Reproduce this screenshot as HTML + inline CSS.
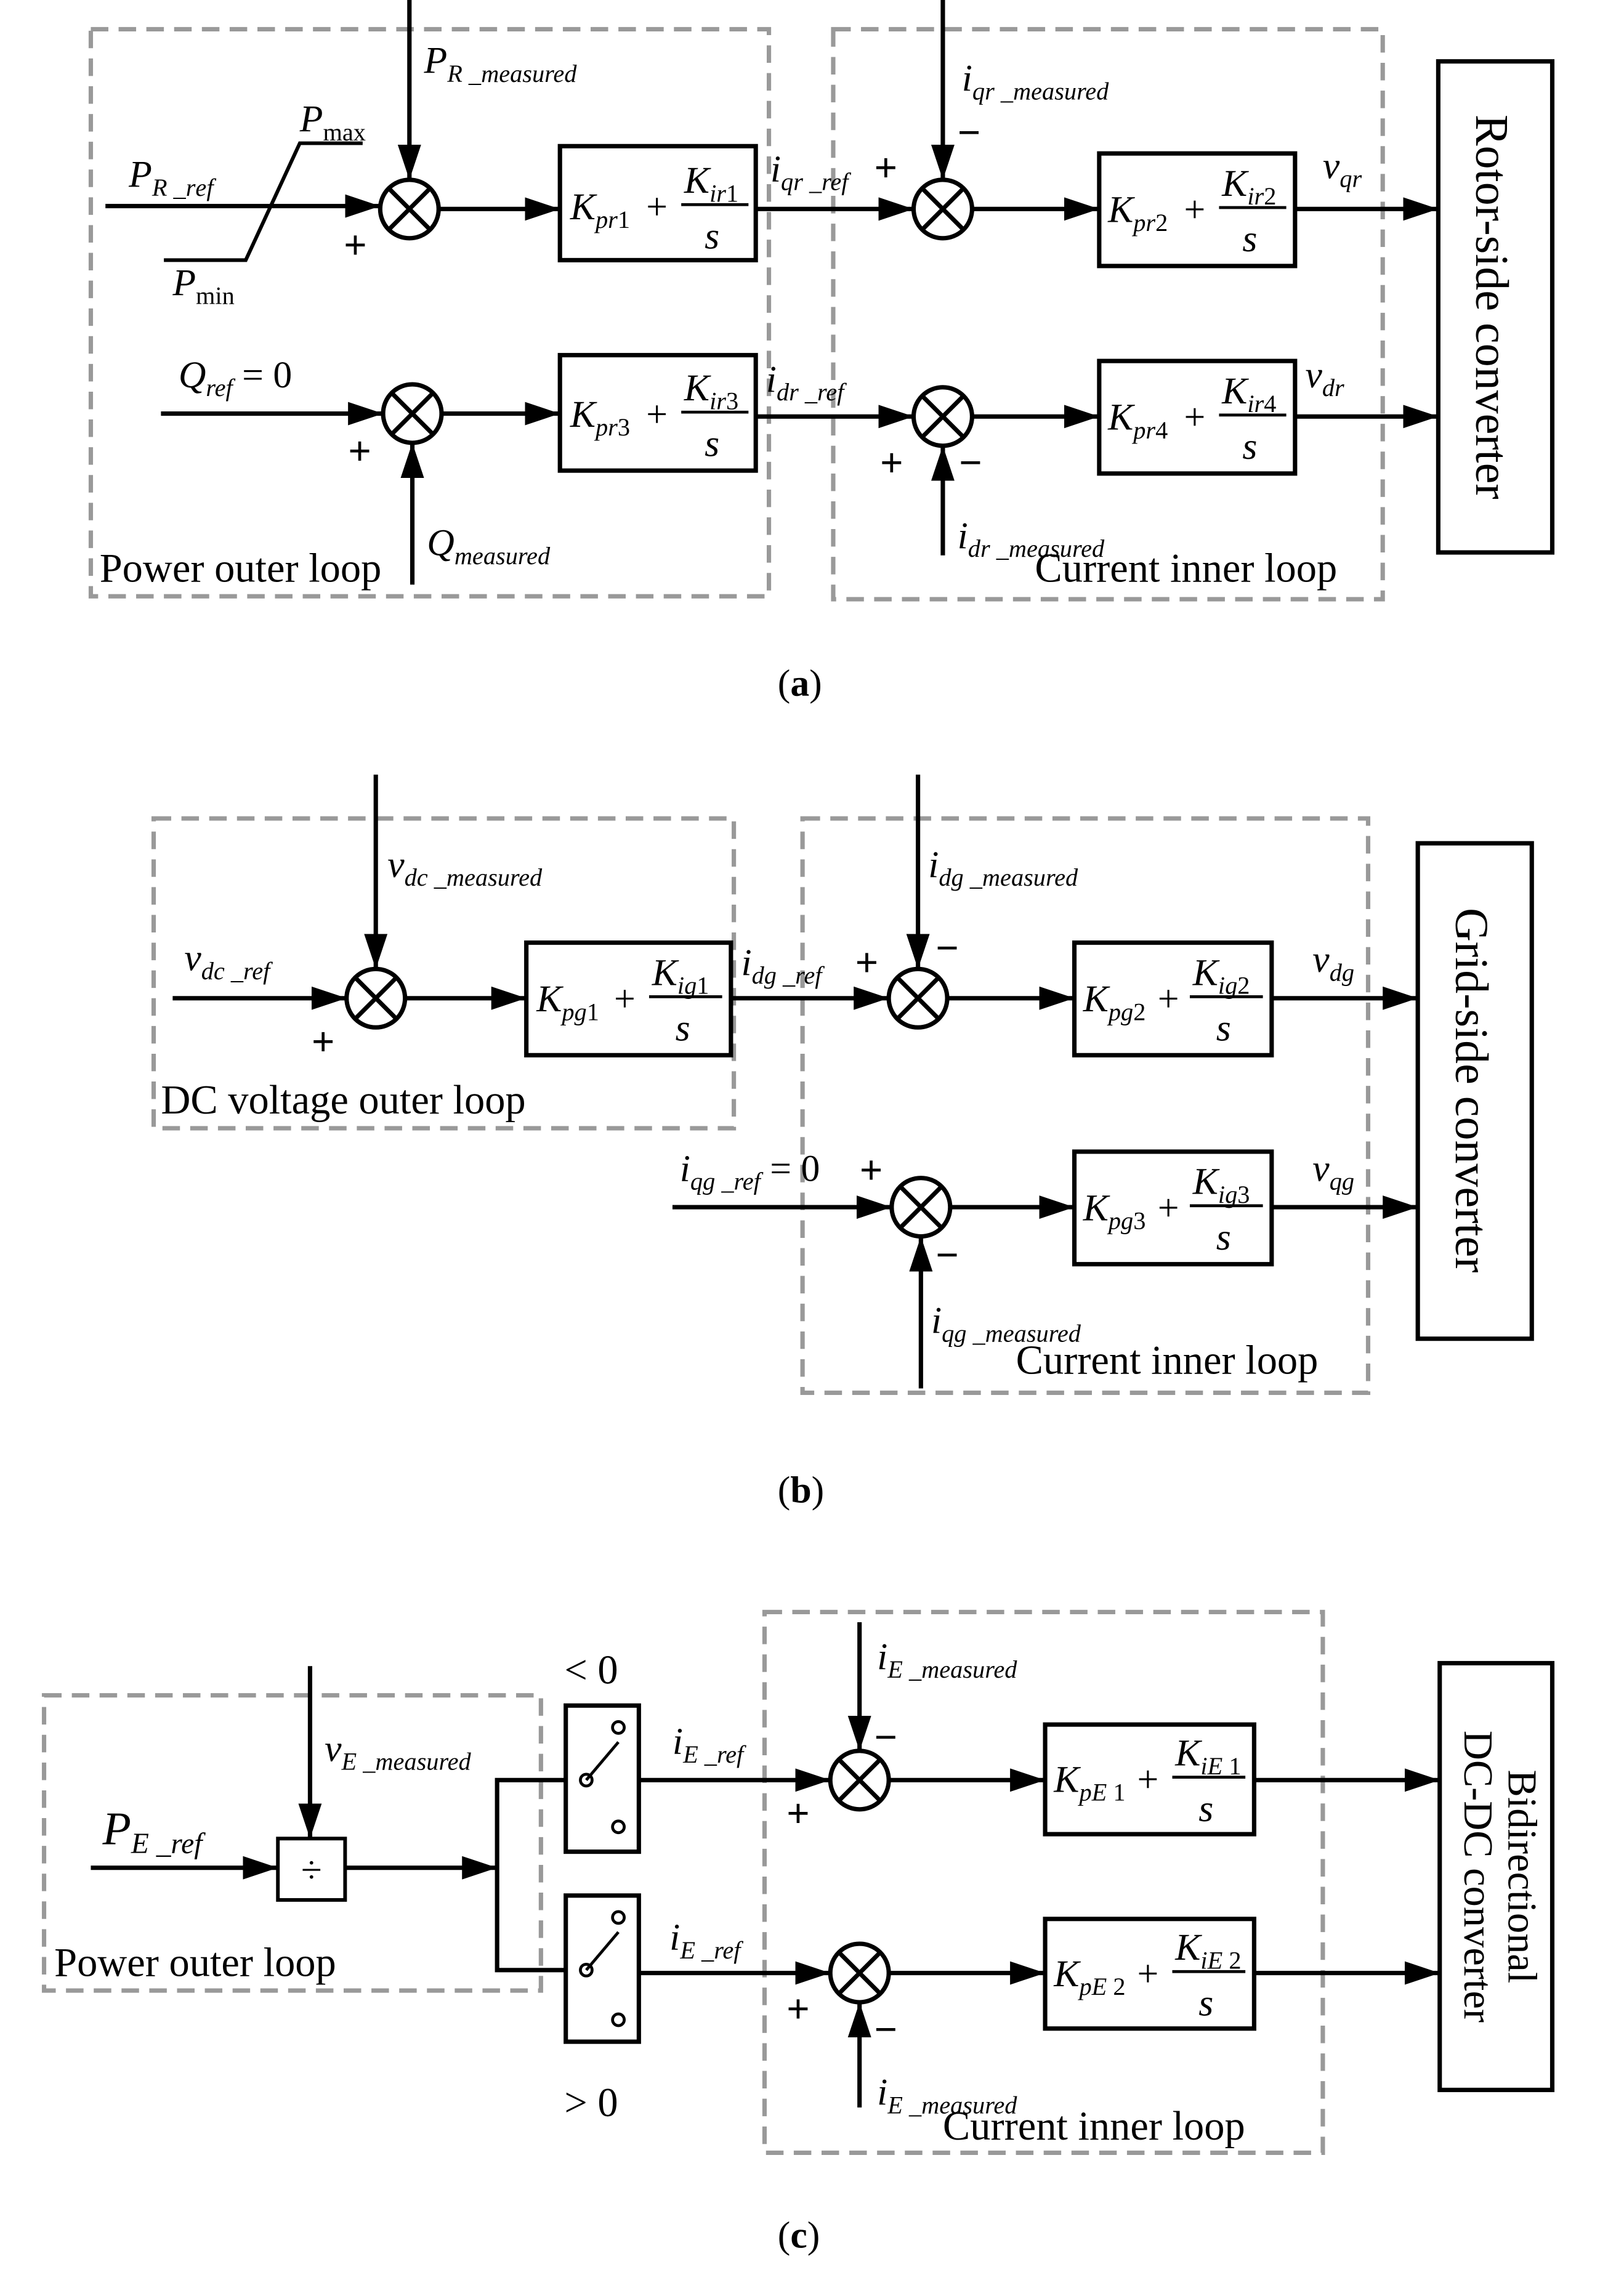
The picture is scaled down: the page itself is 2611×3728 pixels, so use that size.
<!DOCTYPE html>
<html><head><meta charset="utf-8">
<style>
html,body{margin:0;padding:0;background:#fff}
svg{display:block}
text{font-family:"Liberation Serif",serif;fill:#000}
.m{font-style:italic;font-size:26px}
.s{font-style:italic;font-size:17px}
.r{font-size:28px;font-weight:bold}
.q{font-size:26px}
.l{font-size:28px}
.ln{stroke:#000;stroke-width:3;fill:none}
.bx{stroke:#000;stroke-width:3;fill:#fff}
.d{stroke:#999;stroke-width:3;fill:none;stroke-dasharray:12 7}
</style></head><body>
<svg width="2611" height="3728" viewBox="0 0 1100 1571" xmlns="http://www.w3.org/2000/svg">
<defs>
<marker id="a" markerUnits="userSpaceOnUse" markerWidth="24" markerHeight="16" refX="24" refY="8" orient="auto">
<path d="M0,0 L24,8 L0,16 Z" fill="#000"/></marker>
</defs>

<!-- ================= (a) ================= -->
<rect class="d" x="62" y="20" width="464" height="388"/>
<rect class="d" x="570" y="20" width="376" height="390"/>
<rect class="bx" x="984" y="42" width="78" height="336"/>
<text class="l" transform="translate(1010,210) rotate(90)" text-anchor="middle" style="font-size:32px">Rotor-side converter</text>

<line class="ln" x1="280" y1="0" x2="280" y2="123" marker-end="url(#a)"/>
<text class="m" x="290" y="50">P<tspan class="s" dy="6">R _measured</tspan></text>
<line class="ln" x1="72" y1="141" x2="260" y2="141" marker-end="url(#a)"/>
<polyline class="ln" points="112,178 168,178 205,98 248,98" style="stroke-width:2.5"/>
<text class="m" x="88" y="128">P<tspan class="s" dy="6">R _r</tspan><tspan class="s">ef</tspan></text>
<text class="m" x="205" y="90">P<tspan class="s" dy="6" style="font-style:normal">max</tspan></text>
<text class="m" x="118" y="202">P<tspan class="s" dy="6" style="font-style:normal">min</tspan></text>
<text class="r" x="235" y="177">+</text>
<circle class="ln" cx="280" cy="143" r="20"/>
<path class="ln" d="M266,129 L294,157 M294,129 L266,157"/>
<line class="ln" x1="300" y1="143" x2="383" y2="143" marker-end="url(#a)"/>
<rect class="bx" x="383" y="100" width="134" height="78"/>
<text class="m" x="390" y="150">K<tspan class="s" dy="6">pr</tspan><tspan class="s" style="font-style:normal">1</tspan></text>
<text class="q" x="442" y="150">+</text>
<text class="m" x="468" y="132">K<tspan class="s" dy="6">ir</tspan><tspan class="s" style="font-style:normal">1</tspan></text>
<line class="ln" x1="466" y1="140" x2="512" y2="140" style="stroke-width:2"/>
<text class="m" x="482" y="170">s</text>
<line class="ln" x1="517" y1="143" x2="625" y2="143" marker-end="url(#a)"/>
<text class="m" x="527" y="124">i<tspan class="s" dy="6">qr _ref</tspan></text>
<text class="r" x="598" y="124">+</text>
<text class="r" x="655" y="100">−</text>
<line class="ln" x1="645" y1="0" x2="645" y2="123" marker-end="url(#a)"/>
<text class="m" x="658" y="62">i<tspan class="s" dy="6">qr _measured</tspan></text>
<circle class="ln" cx="645" cy="143" r="20"/>
<path class="ln" d="M631,129 L659,157 M659,129 L631,157"/>
<line class="ln" x1="665" y1="143" x2="752" y2="143" marker-end="url(#a)"/>
<rect class="bx" x="752" y="105" width="134" height="77"/>
<text class="m" x="758" y="152">K<tspan class="s" dy="6">pr</tspan><tspan class="s" style="font-style:normal">2</tspan></text>
<text class="q" x="810" y="152">+</text>
<text class="m" x="836" y="134">K<tspan class="s" dy="6">ir</tspan><tspan class="s" style="font-style:normal">2</tspan></text>
<line class="ln" x1="834" y1="142" x2="880" y2="142" style="stroke-width:2"/>
<text class="m" x="850" y="172">s</text>
<line class="ln" x1="886" y1="143" x2="984" y2="143" marker-end="url(#a)"/>
<text class="m" x="905" y="122">v<tspan class="s" dy="6">qr</tspan></text>

<text class="m" x="122" y="265">Q<tspan class="s" dy="6">ref</tspan><tspan class="q" dy="-6" style="font-style:normal"> = 0</tspan></text>
<line class="ln" x1="110" y1="283" x2="262" y2="283" marker-end="url(#a)"/>
<text class="r" x="238" y="318">+</text>
<circle class="ln" cx="282" cy="283" r="20"/>
<path class="ln" d="M268,269 L296,297 M296,269 L268,297"/>
<line class="ln" x1="282" y1="400" x2="282" y2="303" marker-end="url(#a)"/>
<text class="m" x="292" y="380">Q<tspan class="s" dy="6">measured</tspan></text>
<line class="ln" x1="302" y1="283" x2="383" y2="283" marker-end="url(#a)"/>
<rect class="bx" x="383" y="243" width="134" height="79"/>
<text class="m" x="390" y="292">K<tspan class="s" dy="6">pr</tspan><tspan class="s" style="font-style:normal">3</tspan></text>
<text class="q" x="442" y="292">+</text>
<text class="m" x="468" y="274">K<tspan class="s" dy="6">ir</tspan><tspan class="s" style="font-style:normal">3</tspan></text>
<line class="ln" x1="466" y1="282" x2="512" y2="282" style="stroke-width:2"/>
<text class="m" x="482" y="312">s</text>
<line class="ln" x1="517" y1="285" x2="625" y2="285" marker-end="url(#a)"/>
<text class="m" x="524" y="268">i<tspan class="s" dy="6">dr _ref</tspan></text>
<circle class="ln" cx="645" cy="285" r="20"/>
<path class="ln" d="M631,271 L659,299 M659,271 L631,299"/>
<text class="r" x="602" y="326">+</text>
<text class="r" x="656" y="326">−</text>
<line class="ln" x1="645" y1="380" x2="645" y2="305" marker-end="url(#a)"/>
<text class="m" x="655" y="375">i<tspan class="s" dy="6">dr _measured</tspan></text>
<line class="ln" x1="665" y1="285" x2="752" y2="285" marker-end="url(#a)"/>
<rect class="bx" x="752" y="247" width="134" height="77"/>
<text class="m" x="758" y="294">K<tspan class="s" dy="6">pr</tspan><tspan class="s" style="font-style:normal">4</tspan></text>
<text class="q" x="810" y="294">+</text>
<text class="m" x="836" y="276">K<tspan class="s" dy="6">ir</tspan><tspan class="s" style="font-style:normal">4</tspan></text>
<line class="ln" x1="834" y1="284" x2="880" y2="284" style="stroke-width:2"/>
<text class="m" x="850" y="314">s</text>
<line class="ln" x1="886" y1="285" x2="984" y2="285" marker-end="url(#a)"/>
<text class="m" x="893" y="265">v<tspan class="s" dy="6">dr</tspan></text>

<text class="l" x="68" y="398">Power outer loop</text>
<text class="l" x="708" y="398">Current inner loop</text>
<text class="q" x="532" y="476">(<tspan style="font-weight:bold">a</tspan>)</text>

<!-- ================= (b) ================= -->
<rect class="d" x="105" y="560" width="397" height="212"/>
<rect class="d" x="549" y="560" width="387" height="393"/>
<rect class="bx" x="970" y="577" width="78" height="339"/>
<text class="l" transform="translate(996,746) rotate(90)" text-anchor="middle" style="font-size:32px">Grid-side converter</text>

<line class="ln" x1="257" y1="530" x2="257" y2="663" marker-end="url(#a)"/>
<text class="m" x="265" y="600">v<tspan class="s" dy="6">dc _measured</tspan></text>
<line class="ln" x1="118" y1="683" x2="237" y2="683" marker-end="url(#a)"/>
<text class="m" x="126" y="664">v<tspan class="s" dy="6">dc _ref</tspan></text>
<text class="r" x="213" y="722">+</text>
<circle class="ln" cx="257" cy="683" r="20"/>
<path class="ln" d="M243,669 L271,697 M271,669 L243,697"/>
<line class="ln" x1="277" y1="683" x2="360" y2="683" marker-end="url(#a)"/>
<rect class="bx" x="360" y="645" width="140" height="77"/>
<text class="m" x="367" y="692">K<tspan class="s" dy="6">pg</tspan><tspan class="s" style="font-style:normal">1</tspan></text>
<text class="q" x="420" y="692">+</text>
<text class="m" x="446" y="674">K<tspan class="s" dy="6">ig</tspan><tspan class="s" style="font-style:normal">1</tspan></text>
<line class="ln" x1="444" y1="682" x2="494" y2="682" style="stroke-width:2"/>
<text class="m" x="462" y="712">s</text>
<line class="ln" x1="500" y1="683" x2="608" y2="683" marker-end="url(#a)"/>
<text class="m" x="507" y="667">i<tspan class="s" dy="6">dg _ref</tspan></text>
<text class="r" x="585" y="668">+</text>
<text class="r" x="640" y="658">−</text>
<line class="ln" x1="628" y1="530" x2="628" y2="663" marker-end="url(#a)"/>
<text class="m" x="635" y="600">i<tspan class="s" dy="6">dg _measured</tspan></text>
<circle class="ln" cx="628" cy="683" r="20"/>
<path class="ln" d="M614,669 L642,697 M642,669 L614,697"/>
<line class="ln" x1="648" y1="683" x2="735" y2="683" marker-end="url(#a)"/>
<rect class="bx" x="735" y="645" width="135" height="77"/>
<text class="m" x="741" y="692">K<tspan class="s" dy="6">pg</tspan><tspan class="s" style="font-style:normal">2</tspan></text>
<text class="q" x="792" y="692">+</text>
<text class="m" x="816" y="674">K<tspan class="s" dy="6">ig</tspan><tspan class="s" style="font-style:normal">2</tspan></text>
<line class="ln" x1="814" y1="682" x2="864" y2="682" style="stroke-width:2"/>
<text class="m" x="832" y="712">s</text>
<line class="ln" x1="870" y1="683" x2="970" y2="683" marker-end="url(#a)"/>
<text class="m" x="898" y="665">v<tspan class="s" dy="6">dg</tspan></text>

<text class="m" x="465" y="808">i<tspan class="s" dy="6">qg _ref</tspan><tspan class="q" dy="-6" style="font-style:normal"> = 0</tspan></text>
<line class="ln" x1="460" y1="826" x2="610" y2="826" marker-end="url(#a)"/>
<text class="r" x="588" y="810">+</text>
<circle class="ln" cx="630" cy="826" r="20"/>
<path class="ln" d="M616,812 L644,840 M644,812 L616,840"/>
<text class="r" x="640" y="868">−</text>
<line class="ln" x1="630" y1="950" x2="630" y2="846" marker-end="url(#a)"/>
<text class="m" x="637" y="912">i<tspan class="s" dy="6">qg _measured</tspan></text>
<line class="ln" x1="650" y1="826" x2="735" y2="826" marker-end="url(#a)"/>
<rect class="bx" x="735" y="788" width="135" height="77"/>
<text class="m" x="741" y="835">K<tspan class="s" dy="6">pg</tspan><tspan class="s" style="font-style:normal">3</tspan></text>
<text class="q" x="792" y="835">+</text>
<text class="m" x="816" y="817">K<tspan class="s" dy="6">ig</tspan><tspan class="s" style="font-style:normal">3</tspan></text>
<line class="ln" x1="814" y1="825" x2="864" y2="825" style="stroke-width:2"/>
<text class="m" x="832" y="855">s</text>
<line class="ln" x1="870" y1="826" x2="970" y2="826" marker-end="url(#a)"/>
<text class="m" x="898" y="808">v<tspan class="s" dy="6">qg</tspan></text>

<text class="l" x="110" y="762">DC voltage outer loop</text>
<text class="l" x="695" y="940">Current inner loop</text>
<text class="q" x="532" y="1028">(<tspan style="font-weight:bold">b</tspan>)</text>

<!-- ================= (c) ================= -->
<rect class="d" x="30" y="1160" width="340" height="202"/>
<rect class="d" x="523" y="1103" width="382" height="370"/>
<rect class="bx" x="985" y="1138" width="77" height="292"/>
<text class="l" transform="translate(1032,1284) rotate(90)" text-anchor="middle" style="font-size:28px">Bidirectional</text>
<text class="l" transform="translate(1002,1284) rotate(90)" text-anchor="middle" style="font-size:28px">DC-DC converter</text>

<text class="m" x="70" y="1262" style="font-size:32px">P<tspan class="s" dy="6" style="font-size:20px">E _ref</tspan></text>
<line class="ln" x1="62" y1="1278" x2="190" y2="1278" marker-end="url(#a)"/>
<rect class="bx" x="190" y="1258" width="46" height="42" style="stroke-width:2.5"/>
<text class="q" x="213" y="1288" text-anchor="middle">÷</text>
<line class="ln" x1="212" y1="1140" x2="212" y2="1258" marker-end="url(#a)"/>
<text class="m" x="222" y="1205">v<tspan class="s" dy="6">E _measured</tspan></text>
<line class="ln" x1="236" y1="1278" x2="340" y2="1278" marker-end="url(#a)"/>
<polyline class="ln" points="387,1218 340,1218 340,1348 387,1348"/>

<rect class="bx" x="387" y="1167" width="50" height="100"/>
<circle class="ln" cx="401" cy="1218" r="4" style="stroke-width:2"/>
<circle class="ln" cx="423" cy="1182" r="4" style="stroke-width:2"/>
<circle class="ln" cx="423" cy="1250" r="4" style="stroke-width:2"/>
<line class="ln" x1="401" y1="1218" x2="423" y2="1192" style="stroke-width:2"/>
<rect class="bx" x="387" y="1297" width="50" height="100"/>
<circle class="ln" cx="401" cy="1348" r="4" style="stroke-width:2"/>
<circle class="ln" cx="423" cy="1312" r="4" style="stroke-width:2"/>
<circle class="ln" cx="423" cy="1382" r="4" style="stroke-width:2"/>
<line class="ln" x1="401" y1="1348" x2="423" y2="1322" style="stroke-width:2"/>
<text class="l" x="386" y="1152">&lt; 0</text>
<text class="l" x="386" y="1448">&gt; 0</text>

<line class="ln" x1="437" y1="1218" x2="568" y2="1218" marker-end="url(#a)"/>
<text class="m" x="460" y="1200">i<tspan class="s" dy="6">E _ref</tspan></text>
<text class="r" x="538" y="1250">+</text>
<text class="r" x="598" y="1198">−</text>
<line class="ln" x1="588" y1="1110" x2="588" y2="1198" marker-end="url(#a)"/>
<text class="m" x="600" y="1142">i<tspan class="s" dy="6">E _measured</tspan></text>
<circle class="ln" cx="588" cy="1218" r="20"/>
<path class="ln" d="M574,1204 L602,1232 M602,1204 L574,1232"/>
<line class="ln" x1="608" y1="1218" x2="715" y2="1218" marker-end="url(#a)"/>
<rect class="bx" x="715" y="1180" width="143" height="75"/>
<text class="m" x="721" y="1226">K<tspan class="s" dy="6">pE</tspan><tspan class="s" style="font-style:normal"> 1</tspan></text>
<text class="q" x="778" y="1226">+</text>
<text class="m" x="804" y="1208">K<tspan class="s" dy="6">iE</tspan><tspan class="s" style="font-style:normal"> 1</tspan></text>
<line class="ln" x1="802" y1="1216" x2="852" y2="1216" style="stroke-width:2"/>
<text class="m" x="820" y="1246">s</text>
<line class="ln" x1="858" y1="1218" x2="985" y2="1218" marker-end="url(#a)"/>

<line class="ln" x1="437" y1="1350" x2="568" y2="1350" marker-end="url(#a)"/>
<text class="m" x="458" y="1334">i<tspan class="s" dy="6">E _ref</tspan></text>
<text class="r" x="538" y="1384">+</text>
<text class="r" x="598" y="1398">−</text>
<circle class="ln" cx="588" cy="1350" r="20"/>
<path class="ln" d="M574,1336 L602,1364 M602,1336 L574,1364"/>
<line class="ln" x1="588" y1="1442" x2="588" y2="1370" marker-end="url(#a)"/>
<text class="m" x="600" y="1440">i<tspan class="s" dy="6">E _measured</tspan></text>
<line class="ln" x1="608" y1="1350" x2="715" y2="1350" marker-end="url(#a)"/>
<rect class="bx" x="715" y="1313" width="143" height="75"/>
<text class="m" x="721" y="1359">K<tspan class="s" dy="6">pE</tspan><tspan class="s" style="font-style:normal"> 2</tspan></text>
<text class="q" x="778" y="1359">+</text>
<text class="m" x="804" y="1341">K<tspan class="s" dy="6">iE</tspan><tspan class="s" style="font-style:normal"> 2</tspan></text>
<line class="ln" x1="802" y1="1349" x2="852" y2="1349" style="stroke-width:2"/>
<text class="m" x="820" y="1379">s</text>
<line class="ln" x1="858" y1="1350" x2="985" y2="1350" marker-end="url(#a)"/>

<text class="l" x="37" y="1352">Power outer loop</text>
<text class="l" x="645" y="1464">Current inner loop</text>
<text class="q" x="532" y="1538">(<tspan style="font-weight:bold">c</tspan>)</text>
</svg>
</body></html>
